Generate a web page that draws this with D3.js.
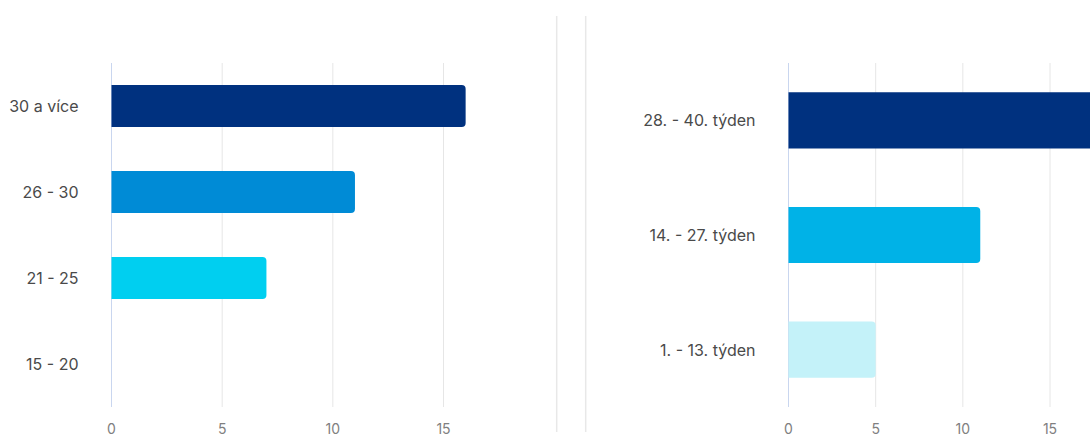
<!DOCTYPE html>
<html><head><meta charset="utf-8">
<script src="https://cdn.jsdelivr.net/npm/d3@7/dist/d3.min.js"></script>
<style>body{margin:0;background:#fff;overflow:hidden}svg{display:block;font-family:Inter,"Noto Sans",sans-serif}</style>
</head><body><svg id="c" width="1090" height="434"></svg>
<script>
const leftCategories = ["30 a více", "26 - 30", "21 - 25", "15 - 20"];
const leftValues = [16, 11, 7, 0];
const leftColors = ["#00317f", "#008bd6", "#00cff0", "#00cff0"];
const rightCategories = ["28. - 40. týden", "14. - 27. týden", "1. - 13. týden"];
const rightValues = [18, 11, 5];
const rightColors = ["#00317f", "#00b2e7", "#c4f2f9"];
const tickValues = [0, 5, 10, 15];

const svg = d3.select("#c");

function panel(cats, vals, cols, x0, x1, maxV) {
  const g = svg.append("g");
  const x = d3.scaleLinear().domain([0, maxV]).range([x0, x1]);
  const y = d3.scaleBand().domain(cats).range([63, 407]).paddingInner(0.51).paddingOuter(0.255);
  g.selectAll("line.grid").data(tickValues.slice(1)).join("line")
    .attr("x1", d => x(d)).attr("x2", d => x(d)).attr("y1", 63).attr("y2", 407)
    .attr("stroke", "#e6e6e6").attr("stroke-width", 1);
  g.append("line").attr("x1", x(0)).attr("x2", x(0)).attr("y1", 63).attr("y2", 407)
    .attr("stroke", "#c9d6ef").attr("stroke-width", 1);
  const r = 4;
  g.selectAll("path.bar").data(cats).join("path")
    .attr("fill", (d, i) => cols[i])
    .attr("d", (d, i) => {
      const v = vals[i]; if (!v) return null;
      const xs = x(0), xe = x(v), yt = y(d), h = y.bandwidth();
      return `M${xs},${yt}H${xe - r}Q${xe},${yt} ${xe},${yt + r}V${yt + h - r}Q${xe},${yt + h} ${xe - r},${yt + h}H${xs}Z`;
    });
  g.selectAll("text.cat").data(cats).join("text")
    .attr("x", x(0) - 33).attr("y", d => y(d) + y.bandwidth() / 2)
    .attr("text-anchor", "end").attr("dominant-baseline", "central")
    .attr("font-size", 16).attr("fill", "#4a4a4a").text(d => d);
  g.selectAll("text.tick").data(tickValues).join("text")
    .attr("x", d => x(d)).attr("y", 428).attr("text-anchor", "middle")
    .attr("dominant-baseline", "central")
    .attr("font-size", 14).attr("fill", "#808080").text(d => d);
}

panel(leftCategories, leftValues, leftColors, 111.5, 443.5, 15);
panel(rightCategories, rightValues, rightColors, 788.5, 1050, 15);

[556.7, 585.7].forEach(xx => svg.append("line").attr("x1", xx).attr("x2", xx).attr("y1", 16).attr("y2", 432)
  .attr("stroke", "#e8e8e8").attr("stroke-width", 1.5));
</script></body></html>
